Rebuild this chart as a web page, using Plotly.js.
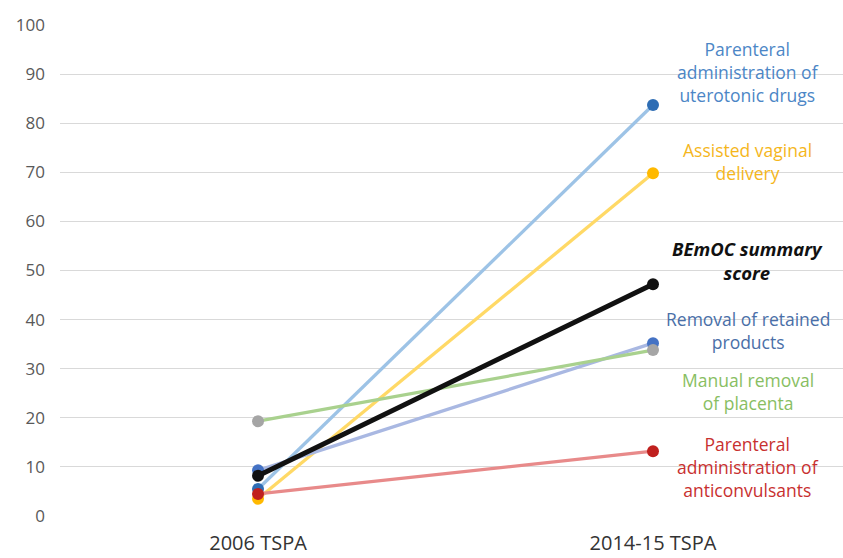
<!DOCTYPE html>
<html>
<head>
<meta charset="utf-8">
<script src="https://cdn.plot.ly/plotly-3.0.1.min.js"></script>
<style>html,body{margin:0;padding:0;background:#fff;}#chart{width:843px;height:558px;}</style>
</head>
<body>
<div id="chart"></div>
<script>
var categories = ["2006 TSPA", "2014-15 TSPA"];
var seriesNames = [
  "Parenteral<br>administration of<br>uterotonic drugs",
  "Assisted vaginal<br>delivery",
  "Removal of retained<br>products",
  "Manual removal<br>of placenta",
  "Parenteral<br>administration of<br>anticonvulsants",
  "<b><i>BEmOC summary<br>score</i></b>"
];
var uterotonic = [5.5, 83.7];
var assistedVaginal = [3.5, 69.8];
var retainedProducts = [9.3, 35.2];
var manualPlacenta = [19.3, 33.8];
var anticonvulsants = [4.5, 13.2];
var bemocScore = [8.2, 47.2];
var labelY = [90.4, 72.1, 37.8, 25.3, 10.0, 52.0];
var yTicks = [0, 10, 20, 30, 40, 50, 60, 70, 80, 90, 100];

var values = [uterotonic, assistedVaginal, retainedProducts, manualPlacenta, anticonvulsants, bemocScore];
var lineColors = ["#9DC3E6", "#FFD966", "#A9B8E2", "#A9D18E", "#E88A8A", "#111111"];
var markerColors = ["#2E6DB4", "#FFB900", "#4472C4", "#A5A5A5", "#C0201E", "#111111"];
var labelColors = ["#4C86C6", "#F5B61C", "#4A6FA8", "#88BE62", "#C8302F", "#111111"];
var lineWidths = [3.3, 3.3, 3.3, 3.3, 3.3, 5];
var labelSizes = [17.5, 17.5, 17.5, 17.5, 17.5, 18.5];

var traces = values.map(function (v, i) {
  return {
    x: categories, y: v, type: "scatter", mode: "lines+markers",
    line: {color: lineColors[i], width: lineWidths[i]},
    marker: {color: markerColors[i], size: 12},
    hoverinfo: "none"
  };
});
var anns = seriesNames.map(function (t, i) {
  return {
    x: 1.2405, y: labelY[i], xref: "x", yref: "y", text: t, showarrow: false,
    xanchor: "center", yanchor: "middle", align: "center",
    font: {family: "Open Sans, Liberation Sans, sans-serif", size: labelSizes[i], color: labelColors[i]}
  };
});

var layout = {
  width: 843, height: 558,
  margin: {l: 60, r: 0, t: 25, b: 42},
  paper_bgcolor: "#ffffff", plot_bgcolor: "#ffffff",
  showlegend: false,
  font: {family: "Open Sans, Liberation Sans, sans-serif", color: "#595959"},
  xaxis: {
    type: "category", range: [-0.5014, 1.4811], showgrid: false, zeroline: false,
    showline: false, ticks: "", tickfont: {size: 20, color: "#333333"}, ticklabelstandoff: 13
  },
  yaxis: {
    range: [0, 100], tickvals: yTicks, ticktext: yTicks.map(String),
    showgrid: true, gridcolor: "#D9D9D9", gridwidth: 1, zeroline: false, showline: false,
    ticks: "", tickfont: {size: 17, color: "#595959"}, ticklabelstandoff: 14
  },
  annotations: anns
};
Plotly.newPlot("chart", traces, layout, {displayModeBar: false, staticPlot: true});
</script>
</body>
</html>
